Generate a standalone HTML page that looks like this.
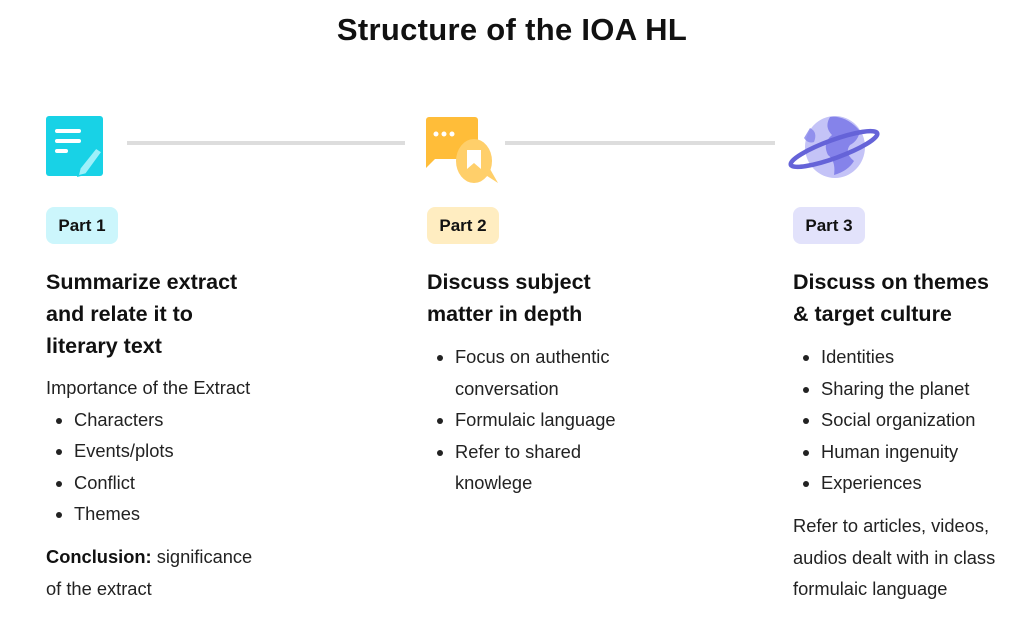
<!DOCTYPE html>
<html><head><style>
body{margin:0;width:1024px;height:617px;background:#fff;font-family:"Liberation Sans",sans-serif;color:#111;position:relative;overflow:hidden}
.a{position:absolute}
h1{position:absolute;top:12px;left:0;width:1024px;text-align:center;margin:0;font-size:31px;font-weight:bold;letter-spacing:0.3px}
.badge{position:absolute;top:207px;height:37px;width:72px;border-radius:8px;font-size:17px;font-weight:bold;line-height:37px;text-align:center}
.h{position:absolute;top:266px;font-size:21.5px;font-weight:bold;line-height:32px}
.t{position:absolute;font-size:18.3px;line-height:31.6px;color:#222;white-space:nowrap}
ul{margin:0;padding-left:28px}
.line{position:absolute;top:141px;height:4px;background:#ddd}
</style></head><body>
<h1>Structure of the IOA HL</h1>
<div class="line" style="left:127px;width:278px"></div>
<div class="line" style="left:505px;width:270px"></div>
<svg class="a" style="left:44px;top:114px" width="70" height="66">
<rect x="2" y="2" width="57" height="60" rx="3" fill="#18d2e6"/>
<rect x="11" y="15" width="26" height="4" rx="2" fill="#fff"/>
<rect x="11" y="25" width="26" height="4" rx="2" fill="#fff"/>
<rect x="11" y="35" width="13" height="4" rx="2" fill="#fff"/>
<path d="M52 34 l6 4 -16 22 -8 2 2 -8z" fill="#9ef0fa" stroke="#18d2e6" stroke-width="1.5"/>
</svg>
<svg class="a" style="left:424px;top:114px" width="80" height="72">
<rect x="2" y="3" width="52" height="42" rx="3" fill="#ffbd39"/>
<path d="M2 40 v14 l10 -10z" fill="#ffbd39"/>
<circle cx="12" cy="20" r="2.5" fill="#fff"/><circle cx="20" cy="20" r="2.5" fill="#fff"/><circle cx="28" cy="20" r="2.5" fill="#fff"/>
<ellipse cx="50" cy="47" rx="18" ry="22" fill="#ffcf6a"/>
<path d="M60 60 l14 9 -8 -14z" fill="#ffcf6a"/>
<path d="M43 36 h14 v19 l-7 -6 -7 6z" fill="#fff"/>
</svg>
<svg class="a" style="left:786px;top:112px" width="96" height="72">
<ellipse cx="49" cy="35" rx="30" ry="31" fill="#c4c3f7"/>
<path d="M44 5 q-6 10 2 18 q-10 8 -4 20 q8 6 6 20 q14-4 20-14 q-10-8 -4-16 q8-4 10-14 q-14-16 -30-14z" fill="#8583ea"/>
<path d="M24 16 q8 4 4 14 q-6 2 -10 -4z" fill="#8583ea" opacity="0.8"/>
<ellipse cx="48" cy="37" rx="46" ry="9" fill="none" stroke="#6563d8" stroke-width="4.5" transform="rotate(-20 48 37)"/>
</svg>
<div class="badge" style="left:46px;background:#ccf6fc">Part 1</div>
<div class="badge" style="left:427px;background:#ffedc1">Part 2</div>
<div class="badge" style="left:793px;background:#e2e2fb">Part 3</div>
<div class="h" style="left:46px">Summarize extract<br>and relate it to<br>literary text</div>
<div class="h" style="left:427px">Discuss subject<br>matter in depth</div>
<div class="h" style="left:793px">Discuss on themes<br>&amp; target culture</div>
<div class="t" style="left:46px;top:372px">Importance of the Extract
<ul><li>Characters</li><li>Events/plots</li><li>Conflict</li><li>Themes</li></ul>
<div style="margin-top:11px"><b style="color:#111">Conclusion:</b> significance<br>of the extract</div></div>
<div class="t" style="left:427px;top:341px"><ul><li>Focus on authentic<br>conversation</li><li>Formulaic language</li><li>Refer to shared<br>knowlege</li></ul></div>
<div class="t" style="left:793px;top:341px"><ul><li>Identities</li><li>Sharing the planet</li><li>Social organization</li><li>Human ingenuity</li><li>Experiences</li></ul>
<div style="margin-top:11px">Refer to articles, videos,<br>audios dealt with in class<br>formulaic language</div></div>
</body></html>
